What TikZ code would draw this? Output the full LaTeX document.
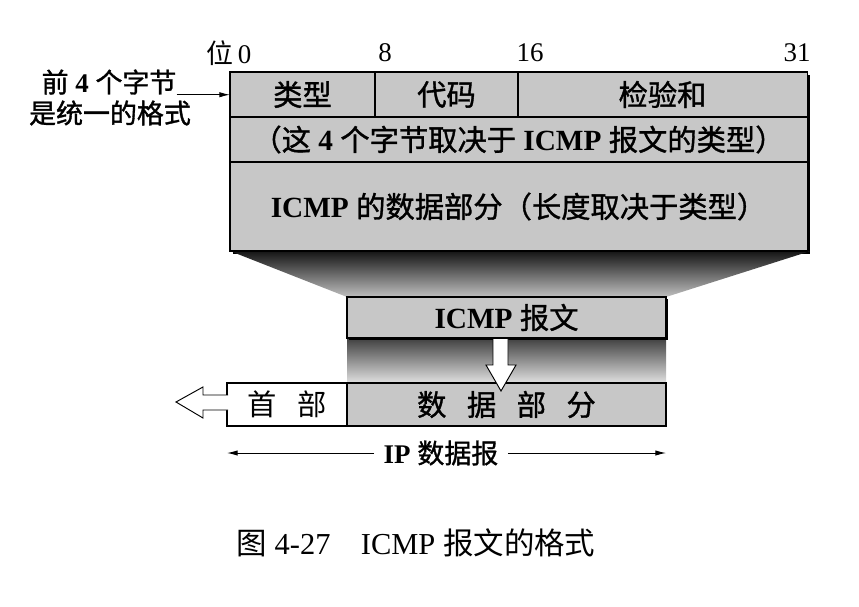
\documentclass[tikz,border=0pt]{standalone}
\usepackage{fontspec}
\setmainfont{Liberation Serif}
\newfontfamily\cjk{Noto Sans CJK SC}
\newfontfamily\cjkb{Noto Sans CJK SC}[FakeBold=1.2]
\usetikzlibrary{positioning,backgrounds,arrows.meta}
\definecolor{raster}{gray}{0.78}
\newcommand{\zh}[1]{{\cjk #1}}
\newcommand{\zhb}[1]{{\cjkb #1}}

\begin{document}
\begin{tikzpicture}[x=0.03cm, y=-0.03cm,
    >={Latex[length=9pt,width=4.5pt]},
    txt/.style={font=\fontsize{23}{28}\selectfont, inner sep=0pt},
    big/.style={font=\fontsize{25}{30}\selectfont, inner sep=0pt},
    cell/.style={big, draw, line width=0.9pt, fill=raster, outer sep=0pt, minimum height=1.35cm},
    bar/.style={cell, minimum height=1.26cm},
    hollow/.style={draw, line width=0.8pt, fill=white, line join=miter},
  ]
  \useasboundingbox (0,0) rectangle (859,606);
  % ICMP message header and data
  \node[cell, anchor=north west, minimum width=4.35cm] (type) at (230,72) {\zhb{类型}};
  \node[cell, right=0pt of type, minimum width=4.29cm] (code) {\zhb{代码}};
  \node[cell, right=0pt of code, minimum width=8.67cm] (chk) {\zhb{检验和}};
  \node[cell, below=0pt of type.south west, anchor=north west, minimum width=17.31cm] (rest)
    {\zhb{（这} \textbf{4} \zhb{个字节取决于} \textbf{ICMP} \zhb{报文的类型）}};
  \node[cell, below=0pt of rest.south west, anchor=north west, minimum width=17.31cm, minimum height=2.67cm] (data)
    {\textbf{ICMP} \zhb{的数据部分（长度取决于类型）}};
  % bit positions
  \node[txt] (b0) at (229,53) {\zh{位}\,0};
  \node[txt] (b8) at (385,53) {8};
  \node[txt] (b16) at (530,53) {16};
  \node[txt] (b31) at (797,53) {31};
  \node[txt] (first) at (109,82) {\zhb{前} \textbf{4} \zhb{个字节}};
  \node[txt] (fmt) at (110,113) {\zhb{是统一的格式}};
  \draw[->, line width=0.8pt] (first.south east) -- (first.south east -| type.west);
  % message inside the IP datagram
  \node[bar, anchor=north west, minimum width=9.57cm, minimum height=1.23cm] (msg) at (347,297) {\textbf{ICMP} \zhb{报文}};
  \node[bar, anchor=north west, fill=white, minimum width=3.6cm, minimum height=1.29cm] (hdr) at (227,383)
    {\zh{首\hspace{.7em}部}};
  \node[bar, right=0pt of hdr, minimum width=9.57cm, minimum height=1.29cm] (pay)
    {\zhb{数\hspace{.7em}据\hspace{.7em}部\hspace{.7em}分}};
  \node[txt, inner xsep=8pt] (ip) at (441,453) {\textbf{IP} \zhb{数据报}};
  \draw[->, line width=0.8pt] (ip.east) -- (ip.east -| pay.east);
  \draw[->, line width=0.8pt] (ip.west) -- (ip.west -| hdr.west);
  \draw[hollow] (493,339) -- (493,365) -- (486,365) -- (501,391) -- (516,365) -- (508,365) -- (508,339);
  \fill[white] (494,339) rectangle (507,366);
  \draw[hollow] (228,395) -- (203,395) -- (203,387) -- (176,402) -- (203,418) -- (203,410) -- (228,410);
  \node[txt, font=\fontsize{26}{30}\selectfont] (cap) at (416,543) {\zh{图} 4-27\quad ICMP \zh{报文的格式}};
  \begin{scope}[on background layer]
    \fill[black] ([shift={(3,3)}]type.north west) rectangle ([shift={(3,3)}]data.south east);
    \shade[top color=black!92, bottom color=black!25] (data.south west) -- ([xshift=3]data.south east)
      -- (msg.north east) -- (msg.north west) -- cycle;
    \shade[top color=black!75, bottom color=black!12] (msg.south west) rectangle (pay.north east);
    \fill[black] ([shift={(2,2)}]msg.north west) rectangle ([shift={(2,2)}]msg.south east);
  \end{scope}
\end{tikzpicture}
\end{document}
